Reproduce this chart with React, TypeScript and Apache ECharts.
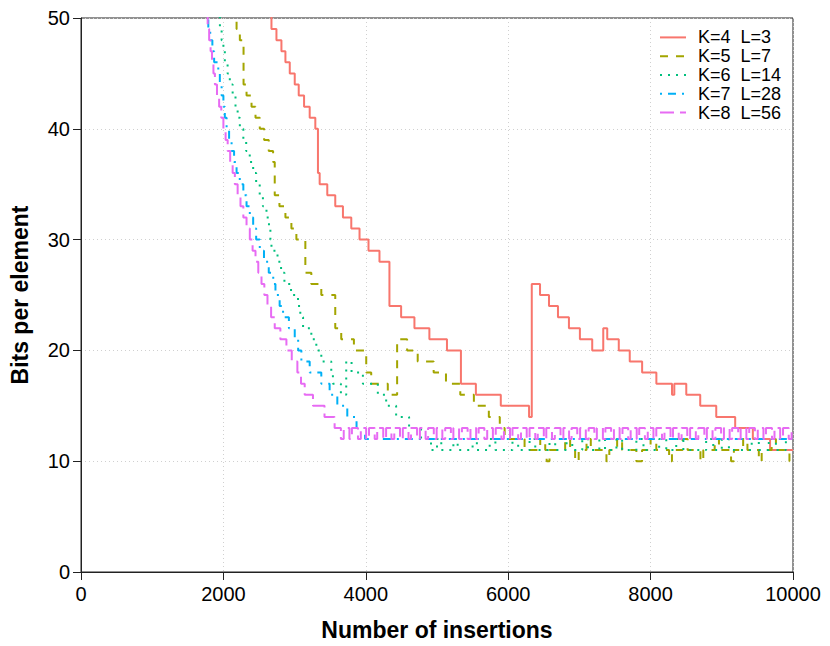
import React, { useEffect, useRef } from "react";
import * as echarts from "echarts";

const xTicks = [0, 2000, 4000, 6000, 8000, 10000];
const yTicks = [0, 10, 20, 30, 40, 50];

const seriesNames = ["K=4 \u00a0L=3", "K=5 \u00a0L=7", "K=6 \u00a0L=14", "K=7 \u00a0L=28", "K=8 \u00a0L=56"];
const seriesColors = ["#F8766D", "#A3A500", "#00BF7D", "#00B0F6", "#E76BF3"];

// [insertions where value changes, new bits per element]
const k4: [number, number][] = [
  [2600, 52], [2675, 49], [2745, 48], [2815, 47], [2871, 46], [2932, 45], [3002, 44], [3058, 43],
  [3133, 42], [3212, 41], [3291, 40], [3328, 36], [3352, 35], [3459, 34], [3571, 33], [3679, 32],
  [3796, 31], [3912, 30], [4038, 29], [4192, 28], [4332, 24], [4496, 23], [4683, 22], [4893, 21],
  [5140, 20], [5336, 17], [5546, 16], [5896, 15], [6293, 14], [6331, 26], [6447, 25], [6573, 24],
  [6699, 23], [6853, 22], [7007, 21], [7180, 20], [7335, 22], [7391, 21], [7553, 20], [7707, 19],
  [7881, 18], [8081, 17], [8301, 16], [8333, 17], [8501, 16], [8697, 15], [8922, 14], [9188, 13],
  [9436, 12], [9678, 11], [10000, 11],
];

const k5: [number, number][] = [
  [2100, 52], [2185, 49], [2231, 48], [2283, 44], [2325, 43], [2395, 42], [2451, 41], [2511, 40],
  [2572, 39], [2637, 38], [2698, 37], [2721, 34], [2787, 33], [2871, 32], [2955, 31], [3025, 30],
  [3151, 27], [3235, 26], [3375, 25], [3571, 22], [3655, 21], [3833, 20], [4006, 18], [4076, 17],
  [4309, 16], [4440, 21], [4580, 20], [4729, 19], [4953, 18], [5126, 17], [5327, 16], [5518, 15],
  [5728, 14], [5882, 13], [5950, 12], [6230, 11], [6450, 12], [6520, 11], [6540, 10], [6580, 11],
  [6800, 12], [6870, 11], [6940, 10], [6990, 11], [7100, 12], [7160, 11], [7380, 10], [7420, 11],
  [7530, 12], [7600, 11], [7800, 10], [7880, 11], [8000, 12], [8080, 11], [8260, 10], [8300, 11],
  [8450, 12], [8520, 11], [8700, 10], [8740, 11], [8900, 12], [8960, 11], [9130, 10], [9170, 11],
  [9300, 12], [9360, 11], [9520, 10], [9560, 11], [9700, 12], [9760, 11], [9950, 10], [10000, 10],
];

const k6: [number, number][] = [
  [1900, 52], [1951, 49], [1975, 48], [2000, 47], [2020, 46], [2059, 45], [2090, 44], [2130, 43],
  [2170, 42], [2200, 41], [2231, 40], [2280, 39], [2320, 38], [2370, 37], [2418, 36], [2460, 35],
  [2510, 34], [2555, 33], [2605, 32], [2640, 31], [2660, 30], [2675, 29], [2760, 28], [2810, 27],
  [2857, 26], [2950, 25], [3048, 24], [3080, 23], [3119, 22], [3235, 21], [3305, 20], [3375, 19],
  [3515, 18], [3538, 17], [3650, 16], [3725, 19], [3800, 18], [3959, 17], [4169, 16], [4286, 15],
  [4426, 14], [4608, 13], [4776, 12], [4916, 11], [5000, 12], [5060, 11], [5230, 12], [5290, 11],
  [5500, 12], [5560, 11], [5740, 12], [5820, 11], [6060, 12], [6140, 11], [6300, 12], [6380, 11],
  [6580, 12], [6660, 11], [6820, 12], [6900, 11], [7040, 12], [7120, 11], [7280, 12], [7360, 11],
  [7520, 12], [7600, 11], [7800, 12], [7900, 11], [8120, 12], [8220, 11], [8360, 12], [8460, 11],
  [8780, 12], [8880, 11], [9000, 12], [9100, 11], [9420, 12], [9520, 11], [9660, 12], [9760, 11],
  [9900, 12], [10000, 12],
];

const k7: [number, number][] = [
  [1700, 52], [1788, 49], [1815, 48], [1845, 47], [1870, 46], [1928, 45], [1950, 44], [1975, 43],
  [2000, 42], [2020, 41], [2045, 40], [2080, 39], [2115, 38], [2150, 37], [2185, 36], [2230, 35],
  [2280, 34], [2325, 33], [2371, 32], [2418, 31], [2460, 30], [2511, 29], [2570, 28], [2637, 27],
  [2700, 26], [2731, 25], [2790, 24], [2838, 23], [2920, 22], [3002, 21], [3050, 20], [3095, 19],
  [3212, 18], [3375, 17], [3492, 16], [3600, 15], [3740, 14], [3870, 13], [3990, 12], [10000, 12],
];

const k8: [number, number][] = [
  [1700, 52], [1779, 49], [1800, 48], [1820, 47], [1840, 46], [1860, 45], [1881, 44], [1910, 43],
  [1940, 42], [1970, 41], [2000, 40], [2031, 39], [2060, 38], [2095, 37], [2130, 36], [2161, 35],
  [2200, 34], [2240, 33], [2280, 32], [2325, 31], [2371, 30], [2410, 29], [2451, 28], [2490, 27],
  [2535, 26], [2575, 25], [2619, 24], [2670, 23], [2721, 22], [2800, 21], [2885, 20], [2960, 19],
  [3039, 18], [3090, 17], [3142, 16], [3258, 15], [3420, 14], [3562, 13],
  [3650, 12], [3690, 13], [3770, 12], [3805, 13], [3890, 12], [3930, 13], [4005, 12], [4045, 13],
  [4125, 12], [4160, 13], [4245, 12], [4285, 13], [4360, 12], [4400, 13], [4480, 12], [4520, 13],
  [4600, 12], [4635, 13], [4720, 12], [4760, 13], [4840, 12], [4875, 13], [4955, 12], [4995, 13],
  [5075, 12], [5115, 13], [5195, 12], [5230, 13], [5310, 12], [5350, 13], [5430, 12], [5470, 13],
  [5550, 12], [5585, 13], [5665, 12], [5705, 13], [5785, 12], [5825, 13], [5905, 12], [5940, 13],
  [6025, 12], [6060, 13], [6140, 12], [6180, 13], [6260, 12], [6300, 13], [6380, 12], [6415, 13],
  [6500, 12], [6535, 13], [6615, 12], [6655, 13], [6735, 12], [6775, 13], [6855, 12], [6890, 13],
  [6970, 12], [7010, 13], [7090, 12], [7130, 13], [7210, 12], [7245, 13], [7330, 12], [7365, 13],
  [7445, 12], [7485, 13], [7565, 12], [7605, 13], [7685, 12], [7720, 13], [7805, 12], [7840, 13],
  [7920, 12], [7960, 13], [8040, 12], [8080, 13], [8160, 12], [8195, 13], [8280, 12], [8315, 13],
  [8395, 12], [8435, 13], [8515, 12], [8555, 13], [8635, 12], [8670, 13], [8755, 12], [8790, 13],
  [8870, 12], [8910, 13], [8990, 12], [9030, 13], [9110, 12], [9145, 13], [9230, 12], [9265, 13],
  [9345, 12], [9385, 13], [9465, 12], [9505, 13], [9585, 12], [9620, 13], [9705, 12], [9740, 13],
  [9820, 12], [9860, 13], [9940, 12], [9980, 13], [10000, 13],
];

const seriesData = [k4, k5, k6, k7, k8];
const dashes: (number[] | "solid")[] = ["solid", [8, 8], [2, 6], [2, 6, 8, 6], [14, 6]];

export default function App() {
  const ref = useRef<HTMLDivElement>(null);
  useEffect(() => {
    document.body.style.margin = "0";
    const chart = echarts.init(ref.current!, null, { renderer: "svg" });
    const font = "'Liberation Sans', Arial, Helvetica, sans-serif";
    chart.setOption({
      animation: false,
      textStyle: { fontFamily: font },
      grid: {
        left: 79,
        right: 37,
        top: 18,
        bottom: 74,
        show: true,
        borderColor: "#222",
        borderWidth: 1,
      },
      legend: {
        orient: "vertical",
        left: 654,
        top: 23,
        itemWidth: 26,
        itemHeight: 14,
        itemGap: 0,
        data: seriesNames,
        itemStyle: { opacity: 0 },
        textStyle: { fontSize: 18, color: "#000", lineHeight: 18.8, padding: [0, 0, 0, 7], fontFamily: font },
      },
      xAxis: {
        type: "value",
        min: 0,
        max: 10000,
        interval: 2000,
        name: "Number of insertions",
        nameLocation: "middle",
        nameGap: 46,
        nameTextStyle: { fontSize: 23, fontWeight: "bold", color: "#000", fontFamily: font },
        axisLine: { show: true, lineStyle: { color: "#222", width: 1 } },
        axisTick: { show: true, length: 8, lineStyle: { color: "#222" } },
        axisLabel: {
          fontSize: 20,
          color: "#000",
          margin: 12,
          formatter: (v: number) => (xTicks.includes(v) ? String(v) : ""),
        },
        splitLine: { show: true, lineStyle: { color: "#d0d0d0", type: [1, 3], width: 1 } },
      },
      yAxis: {
        type: "value",
        min: 0,
        max: 50,
        interval: 10,
        name: "Bits per element",
        nameLocation: "middle",
        nameGap: 50,
        nameTextStyle: { fontSize: 23, fontWeight: "bold", color: "#000", fontFamily: font },
        axisLine: { show: true, lineStyle: { color: "#222", width: 1 } },
        axisTick: { show: true, length: 8, lineStyle: { color: "#222" } },
        axisLabel: {
          fontSize: 20,
          color: "#000",
          margin: 11,
          formatter: (v: number) => (yTicks.includes(v) ? String(v) : ""),
        },
        splitLine: { show: true, lineStyle: { color: "#d0d0d0", type: [1, 3], width: 1 } },
      },
      series: seriesNames.map((name, i) => ({
        name,
        type: "line",
        step: "end",
        symbol: "none",
        clip: true,
        data: seriesData[i],
        color: seriesColors[i],
        lineStyle: { color: seriesColors[i], width: 2, type: dashes[i] },
      })),
    });
    return () => chart.dispose();
  }, []);
  return <div ref={ref} style={{ width: 830, height: 646 }} />;
}
